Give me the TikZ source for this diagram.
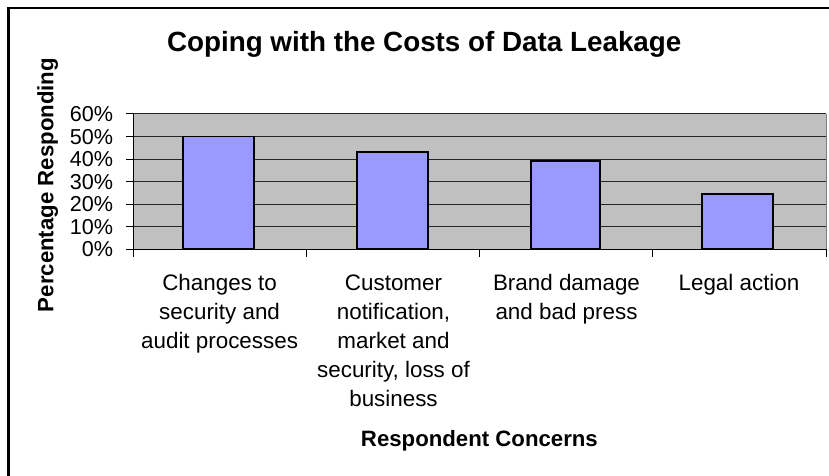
\documentclass[tikz,border=0pt]{standalone}
\usepackage{fontspec}
\setmainfont{Liberation Sans}
\definecolor{plotbg}{HTML}{C0C0C0}
\definecolor{barfill}{HTML}{9999FF}
\definecolor{plotedge}{HTML}{808080}
\begin{document}
\begin{tikzpicture}[x=1pt,y=-1pt,
  frameline/.style={line width=2.4pt,black},
  gridline/.style={line width=1pt,black!85},
  axisline/.style={line width=1pt,black},
  barbox/.style={draw=black,line width=1.7pt,fill=barfill},
  ticklbl/.style={anchor=base east,inner sep=0pt,font=\fontsize{21.6}{26}\selectfont},
  catlbl/.style={anchor=base,inner sep=0pt,align=center,font=\fontsize{22.4}{29}\selectfont},
  titlelbl/.style={anchor=base,inner sep=0pt,font=\fontsize{27.8}{33}\selectfont\bfseries},
  axislbl/.style={anchor=base,inner sep=0pt,font=\fontsize{22.2}{27}\selectfont\bfseries}]
\useasboundingbox (0,0) rectangle (829,476);
\fill[white] (0,0) rectangle (829,476);
% outer frame (left and top edges visible)
\draw[frameline] (8.3,477) -- (8.3,8.3) -- (830,8.3);
% plot area
\fill[plotbg] (133,114) rectangle (826,249);
\draw[plotedge,line width=1pt] (826,114) -- (826,249);
\foreach \v in {1,...,6} \draw[gridline] (133,{249-22.5*\v}) -- (826,{249-22.5*\v});
% bars
\draw[barbox] (183.3,249) rectangle (254.3,136.5);
\draw[barbox] (357.3,249) rectangle (428.3,152.3);
\draw[barbox] (530.7,249) rectangle (600,161);
\draw[barbox] (702.3,249) rectangle (773.3,193.7);
% axes
\draw[axisline] (133,114) -- (133,256.5);
\draw[axisline] (133,249) -- (826,249);
\foreach \v in {0,...,6} \draw[axisline] (126,{249-22.5*\v}) -- (133,{249-22.5*\v});
\foreach \x in {306,479.5,652,826} \draw[axisline] (\x,249) -- (\x,256.5);
% tick labels
\foreach \v/\t in {0/0\%,1/10\%,2/20\%,3/30\%,4/40\%,5/50\%,6/60\%}
  \node[ticklbl] (t\v) at (113.3,{249-22.5*\v+7.7}) {\t};
% category labels (anchor base = baseline of the last line)
\node[catlbl] (c1) at (219.6,348) {Changes to\\security and\\audit processes};
\node[catlbl] (c2) at (393.5,406) {Customer\\notification,\\market and\\security, loss of\\business};
\node[catlbl] (c3) at (566.5,319) {Brand damage\\and bad press};
\node[catlbl] (c4) at (739,290) {Legal action};
% titles
\node[titlelbl] (title) at (424.2,51.7) {Coping with the Costs of Data Leakage};
\node[axislbl] (xlabel) at (479.4,446.7) {Respondent Concerns};
\node[axislbl,rotate=90] (ylabel) at (53.3,185) {Percentage Responding};
\end{tikzpicture}
\end{document}
